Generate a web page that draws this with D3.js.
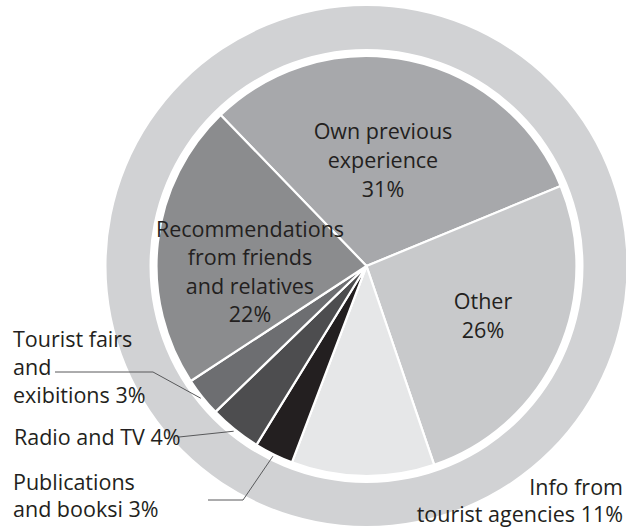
<!DOCTYPE html>
<html lang="en">
<head>
<meta charset="UTF-8">
<title>Sources of information</title>
<style>
  body { margin: 0; background: #fff; }
  text { font-family: "Open Sans", sans-serif; fill: #231f20; }
</style>
</head>
<body>
<svg width="626" height="532"></svg>
<script src="https://d3js.org/d3.v7.min.js"></script>
<script>
    // data
    var categories = ["Own previous experience", "Other", "Info from tourist agencies",
        "Publications and booksi", "Radio and TV", "Tourist fairs and exibitions",
        "Recommendations from friends and relatives"];
    var values = [31, 26, 11, 3, 4, 3, 22];
    var labelLines = [
        ["Own previous", "experience", "31%"],
        ["Other", "26%"],
        ["Info from", "tourist agencies 11%"],
        ["Publications", "and booksi 3%"],
        ["Radio and TV 4%"],
        ["Tourist fairs", "and", "exibitions 3%"],
        ["Recommendations", "from friends", "and relatives", "22%"]
    ];
    var colors = ["#a7a8ab", "#c8c9cb", "#e6e7e8", "#231f20", "#4d4d4f", "#6d6e71", "#8b8c8e"];

    var svg = d3.select("svg"),
        cx = 366.5, cy = 266,
        r = 210, ringInner = 217, ringOuter = 260;

    var g = svg.append("g").attr("transform", "translate(" + cx + "," + cy + ")");

    // outer ring
    g.append("path")
        .attr("d", d3.arc().innerRadius(ringInner).outerRadius(ringOuter)
            .startAngle(0).endAngle(2 * Math.PI)())
        .attr("fill", "#d1d2d4");

    var a0 = -44 * Math.PI / 180;
    var pie = d3.pie().sort(null).startAngle(a0).endAngle(a0 + 2 * Math.PI);
    var arcs = pie(values);
    var arc = d3.arc().innerRadius(0).outerRadius(r);
    var edgeArc = d3.arc().innerRadius(212).outerRadius(212);

    g.selectAll("path.slice")
        .data(arcs)
        .enter().append("path")
        .attr("class", "slice")
        .attr("d", arc)
        .attr("fill", function(d, i) { return colors[i]; })
        .attr("stroke", "#fff")
        .attr("stroke-width", 2.2)
        .attr("stroke-linejoin", "round");

    // label layout: [x, y of first baseline, anchor, line height]
    var layout = [
        [383, 139, "middle", 29],
        [483, 309, "middle", 29],
        [623, 495, "end", 27],
        [13, 490, "start", 27],
        [14, 445, "start", 28],
        [13, 347, "start", 28],
        [250, 237, "middle", 28.3]
    ];

    // leader lines from label to slice edge
    var leaders = {
        3: [[208, 500], [243, 500]],
        4: [[179, 437]],
        5: [[55, 372], [153, 372]]
    };
    Object.keys(leaders).forEach(function(k) {
        var e = edgeArc.centroid(arcs[k]);
        var pts = leaders[k].concat([[cx + e[0], cy + e[1]]]);
        svg.append("path")
            .attr("d", d3.line()(pts))
            .attr("fill", "none")
            .attr("stroke", "#58595b")
            .attr("stroke-width", 1);
    });

    labelLines.forEach(function(lines, i) {
        var L = layout[i];
        var t = svg.append("text")
            .attr("text-anchor", L[2])
            .attr("font-size", 21.5);
        lines.forEach(function(s, j) {
            t.append("tspan").attr("x", L[0]).attr("y", L[1] + j * L[3]).text(s);
        });
    });
</script>
</body>
</html>
